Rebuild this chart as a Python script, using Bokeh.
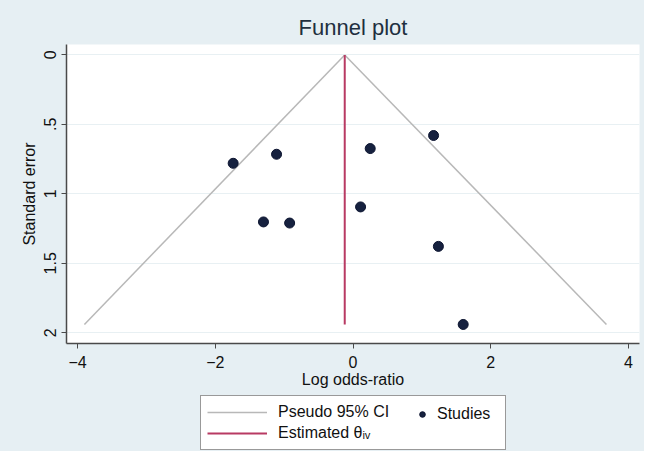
from bokeh.plotting import figure
from bokeh.models import Range1d, FixedTicker, Legend, LegendItem, ColumnDataSource
from bokeh.layouts import column
from bokeh.embed import file_html
from bokeh.resources import INLINE

# Data
log_or = [-1.74, -1.11, 0.25, 1.17, 0.11, -1.30, -0.92, 1.24, 1.60]
std_err = [0.78, 0.715, 0.674, 0.58, 1.094, 1.202, 1.21, 1.378, 1.94]
theta_x = [-0.12, -0.12]
theta_se = [0.0, 1.94]
ci_se = [0.0, 1.94]
ci_lower = [-0.12, -3.90]
ci_upper = [-0.12, 3.68]
x_ticks = [-4, -2, 0, 2, 4]
y_ticks = [0, 0.5, 1, 1.5, 2]
y_tick_labels = ["0", ".5", "1", "1.5", "2"]

FONT = "Liberation Sans"
BG = "#e6eff3"
CI_COLOR = "#b8b8b8"
THETA_COLOR = "#b83a63"
PT_FILL = "#16213f"
PT_LINE = "#0c1430"

p = figure(width=644, height=394, output_backend="svg", toolbar_location=None,
           x_range=Range1d(-4.16, 4.16), y_range=Range1d(2.077, -0.075),
           min_border_left=66, min_border_right=5, min_border_top=44, min_border_bottom=51,
           background_fill_color="white", border_fill_color=BG)
p.outline_line_color = None

p.title.text = "Funnel plot"
p.title.align = "center"
p.title.text_font = FONT
p.title.text_font_size = "22px"
p.title.text_font_style = "normal"
p.title.text_color = "#1f2f3f"

# Axes
for ax in (p.xaxis[0], p.yaxis[0]):
    ax.axis_line_color = "#4a4a4a"
    ax.axis_line_width = 1.5
    ax.major_tick_line_color = "#4a4a4a"
    ax.major_tick_out = 5
    ax.major_tick_in = 0
    ax.minor_tick_line_color = None
    ax.major_label_text_font = FONT
    ax.major_label_text_font_size = "16px"
    ax.major_label_text_color = "#111111"
    ax.axis_label_text_font = FONT
    ax.axis_label_text_font_size = "16px"
    ax.axis_label_text_font_style = "normal"
    ax.axis_label_text_color = "#111111"

p.xaxis.ticker = FixedTicker(ticks=x_ticks)
p.xaxis.axis_label = "Log odds-ratio"
p.xaxis.major_label_standoff = 7
p.xaxis.axis_label_standoff = 0

p.yaxis.ticker = FixedTicker(ticks=y_ticks)
p.yaxis.major_label_overrides = {t: l for t, l in zip(y_ticks, y_tick_labels)}
p.yaxis.major_label_orientation = "vertical"
p.yaxis.axis_label = "Standard error"
p.yaxis.major_label_standoff = 5
p.yaxis.axis_label_standoff = 4

p.xgrid.grid_line_color = None
p.ygrid.grid_line_color = "#e8f0f3"
p.ygrid.grid_line_width = 1

# Glyphs
p.line(ci_lower, ci_se, line_color=CI_COLOR, line_width=1.5)
p.line(ci_upper, ci_se, line_color=CI_COLOR, line_width=1.5)
p.line(theta_x, theta_se, line_color=THETA_COLOR, line_width=2)
src = ColumnDataSource(dict(x=log_or, y=std_err))
p.scatter("x", "y", source=src, size=10, fill_color=PT_FILL,
          line_color=PT_LINE, line_width=1)

# Legend panel (separate figure under the plot; its ranges keep its own
# copies of the glyphs out of view so only the legend keys show)
lp = figure(width=644, height=57, output_backend="svg", toolbar_location=None,
            x_range=Range1d(10, 11), y_range=Range1d(10, 11),
            min_border_left=66, min_border_right=5, min_border_top=0, min_border_bottom=0,
            background_fill_color=BG, background_fill_alpha=0, border_fill_color=BG,
            x_axis_type=None, y_axis_type=None)
lp.outline_line_color = None
lp.grid.visible = False
k_ci = lp.line(ci_lower, ci_se, line_color=CI_COLOR, line_width=1.5)
k_th = lp.line(theta_x, theta_se, line_color=THETA_COLOR, line_width=2)
k_pt = lp.scatter(log_or, std_err, size=10, fill_color=PT_FILL, line_color=PT_LINE, line_width=1)

def style(lg):
    lg.label_text_font = FONT
    lg.label_text_font_size = "16px"
    lg.label_text_color = "#111111"
    lg.glyph_height = 20
    lg.label_height = 20
    lg.spacing = 1
    lg.padding = 6
    lg.margin = 0

legend1 = Legend(items=[
    LegendItem(label="Pseudo 95% CI", renderers=[k_ci]),
    LegendItem(label="Estimated θᵢᵥ", renderers=[k_th]),
], location=(134, 1), orientation="vertical")
style(legend1)
legend1.glyph_width = 60
legend1.label_standoff = 11
legend1.label_width = 221
legend1.border_line_color = "#333333"
legend1.border_line_width = 1.5
legend1.background_fill_color = "white"
legend1.background_fill_alpha = 1
lp.add_layout(legend1, "center")

legend2 = Legend(items=[
    LegendItem(label="Studies", renderers=[k_pt]),
], location=(349, 27), orientation="vertical")
style(legend2)
legend2.glyph_width = 14
legend2.label_standoff = 8
legend2.border_line_color = None
legend2.background_fill_alpha = 0
lp.add_layout(legend2, "center")

layout = column(p, lp, spacing=0, styles={"background-color": BG})
open("out.html", "w").write(file_html(layout, INLINE))
